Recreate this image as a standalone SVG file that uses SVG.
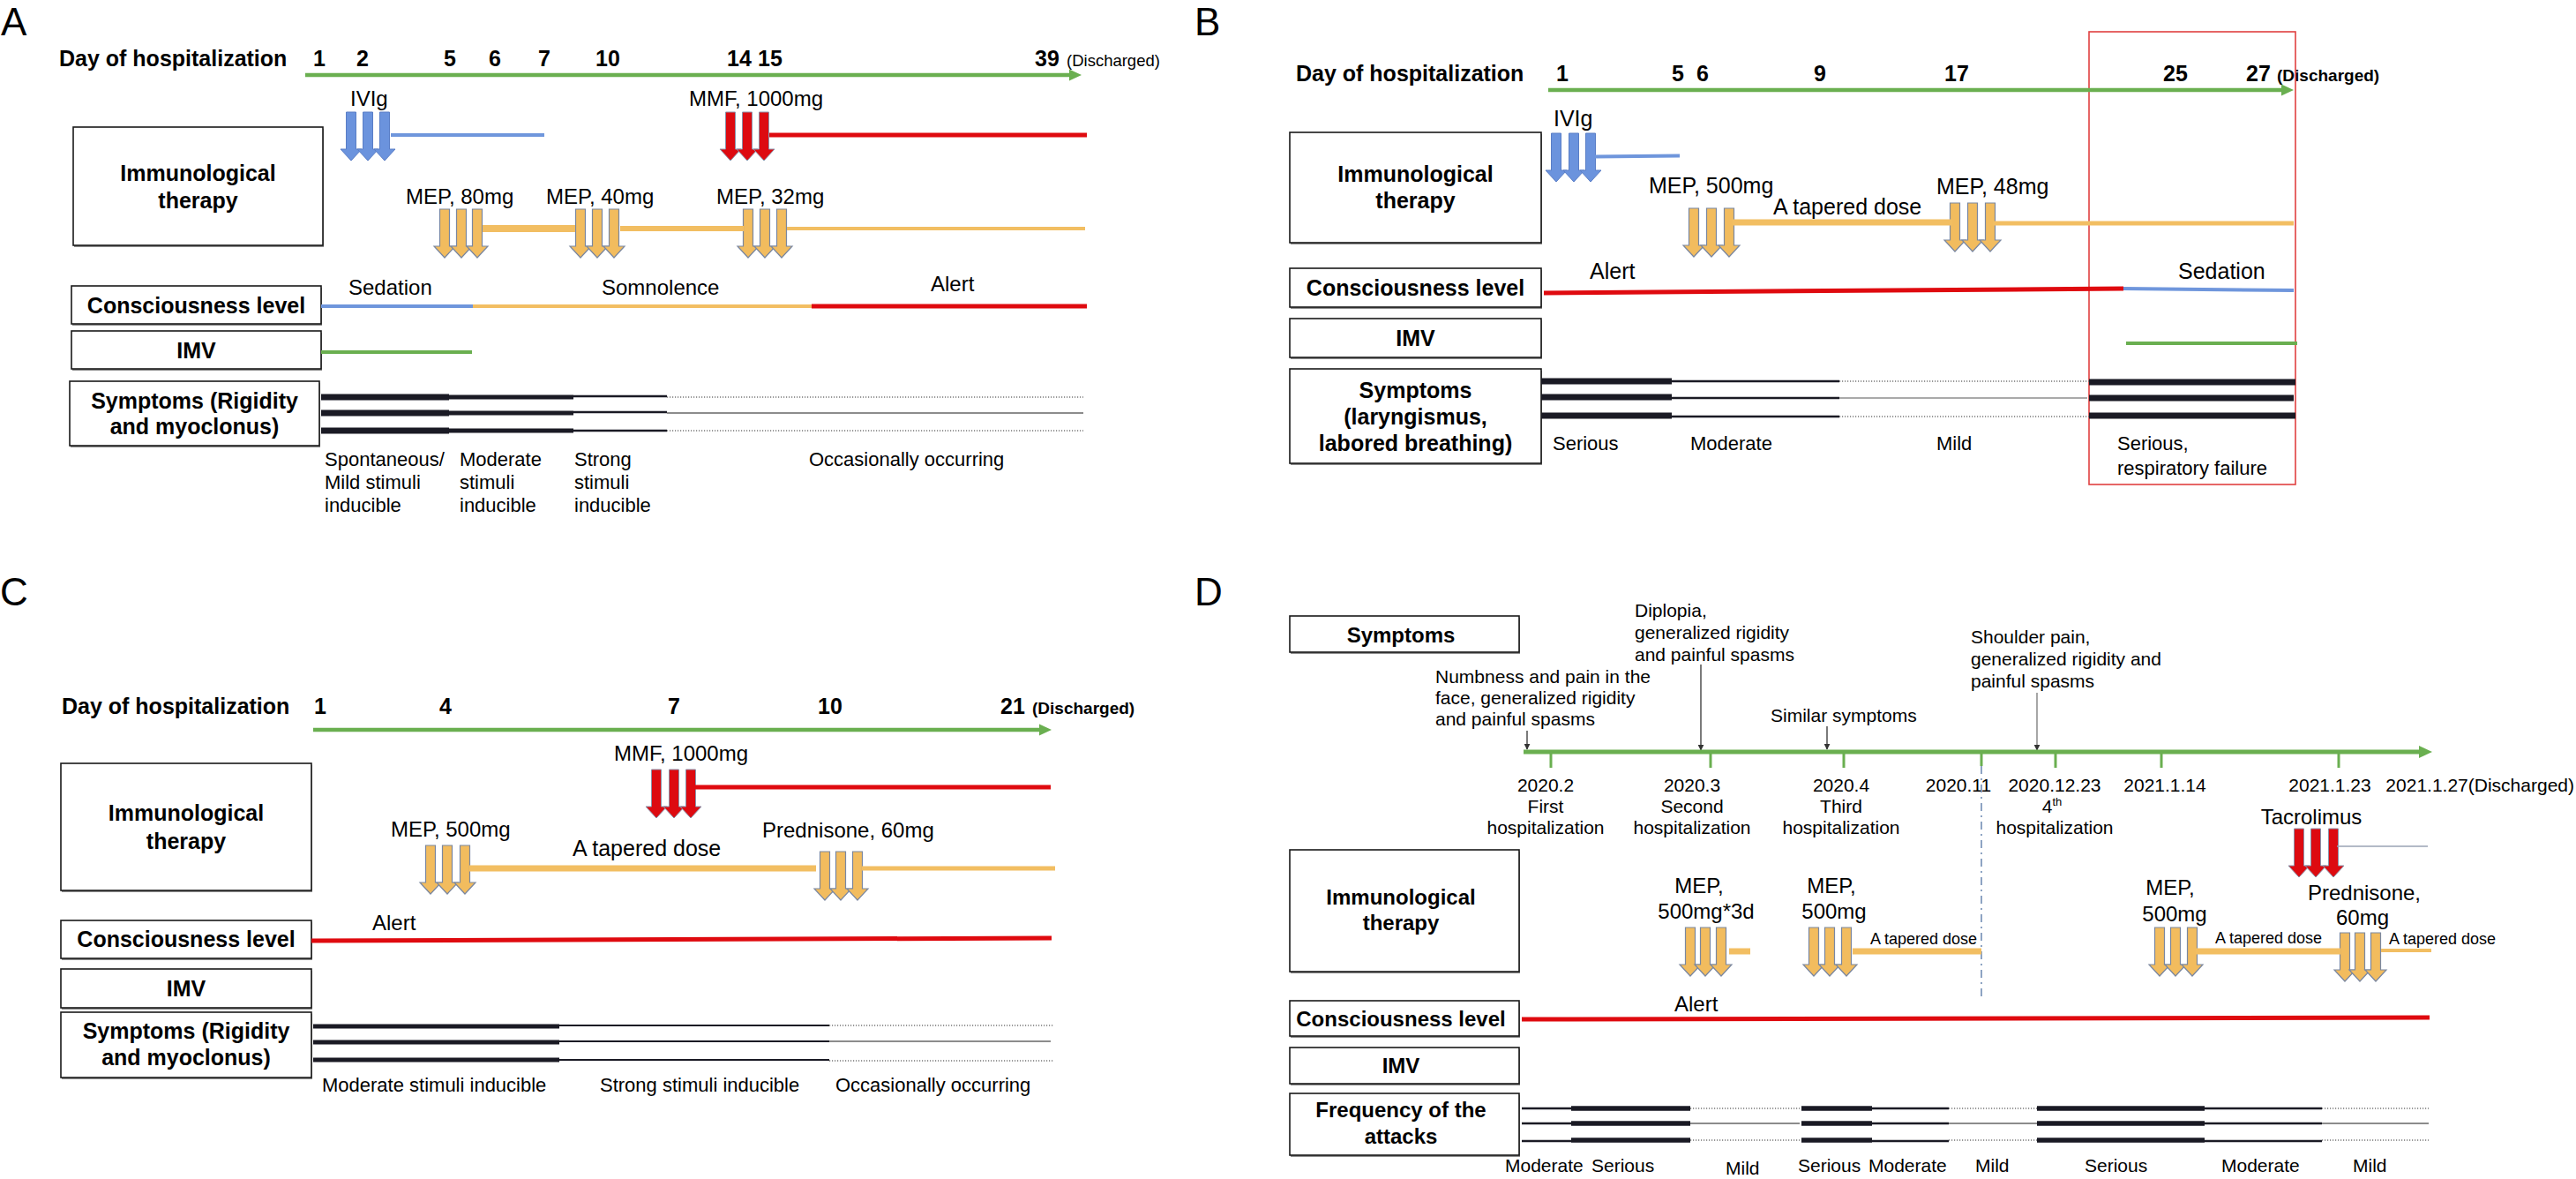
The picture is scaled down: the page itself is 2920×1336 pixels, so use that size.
<svg xmlns="http://www.w3.org/2000/svg" width="2920" height="1336" viewBox="0 0 2920 1336">
<style>
text{font-family:"Liberation Sans",Arial,sans-serif;fill:#000}
.pl{font-size:44px}
.day{font-size:25px;font-weight:bold}
.dis{font-size:18.5px}
.disb{font-size:19px;font-weight:bold}
.lb{font-size:24px}
.lb25{font-size:25px}
.sm{font-size:22px}
.d21{font-size:21px}
.d18{font-size:18px}
.bx{font-size:25px;font-weight:bold;text-anchor:middle}
.bxd{font-size:24px;font-weight:bold;text-anchor:middle}
.mid{text-anchor:middle}
.box{fill:#fff;stroke:#1a1a1a;stroke-width:1.6}
.shd{fill:#8c8c8c}
.ab{fill:#6B93DD;stroke:#5A7EC6;stroke-width:1}
.ao{fill:#F2BC5E;stroke:#7A87A0;stroke-width:1.2}
.ar{fill:#DD0A10;stroke:#8A93AA;stroke-width:1}
.g{stroke:#6AAF50;fill:none}
.bl{stroke:#6F96DC;fill:none}
.rd{stroke:#DF0A0F;fill:none}
.or{stroke:#F2BE62;fill:none}
.k{stroke:#1a1a24;fill:none}
.dot{stroke:#777;stroke-width:1.3;stroke-dasharray:1.2 1.8;fill:none}
.thin{stroke:#666;stroke-width:1.5;fill:none}
.ann{stroke:#333;stroke-width:1.3;fill:none;marker-end:url(#tip)}
</style>
<defs>
<path id="arw" d="M-5.5,0H5.5V42H12L0,55L-12,42H-5.5Z"/>
<marker id="tip" viewBox="0 0 10 10" refX="9" refY="5" markerWidth="7" markerHeight="7" markerUnits="userSpaceOnUse" orient="auto">
<path d="M0,0L10,5L0,10Z" fill="#333"/>
</marker>
</defs>

<!-- Panel labels -->
<g id="panel-labels">
<text class="pl" x="1" y="40">A</text>
<text class="pl" x="1354" y="40">B</text>
<text class="pl" x="0" y="686">C</text>
<text class="pl" x="1354" y="686">D</text>
</g>

<!-- ================= PANEL A ================= -->
<g id="A-axis">
<text class="day" x="67" y="75">Day of hospitalization</text>
<text class="day" x="355" y="75">1</text>
<text class="day" x="404" y="75">2</text>
<text class="day" x="503" y="75">5</text>
<text class="day" x="554" y="75">6</text>
<text class="day" x="610" y="75">7</text>
<text class="day" x="675" y="75">10</text>
<text class="day" x="824" y="75">14</text>
<text class="day" x="859" y="75">15</text>
<text class="day" x="1173" y="75">39</text>
<text class="dis" x="1209" y="75">(Discharged)</text>
</g>
<g id="A-box-immuno">
<rect class="shd" x="84" y="146" width="283" height="134"/>
<rect class="box" x="83" y="144" width="283" height="134"/>
<text class="bx" x="224.5" y="205">Immunological</text>
<text class="bx" x="224.5" y="236">therapy</text>
</g>
<g id="A-box-conscious">
<rect class="shd" x="82" y="326" width="283" height="43"/>
<rect class="box" x="81" y="324" width="283" height="43"/>
<text class="bx" x="222.5" y="355">Consciousness level</text>
</g>
<g id="A-box-imv">
<rect class="shd" x="82" y="377" width="283" height="43"/>
<rect class="box" x="81" y="375" width="283" height="43"/>
<text class="bx" x="222.5" y="406">IMV</text>
</g>
<g id="A-box-symptoms">
<rect class="shd" x="80" y="434" width="283" height="73"/>
<rect class="box" x="79" y="432" width="283" height="73"/>
<text class="bx" x="220.5" y="463">Symptoms (Rigidity</text>
<text class="bx" x="220.5" y="492">and myoclonus)</text>
</g>
<g id="A-therapy">
<text class="lb" x="397" y="120">IVIg</text>
<use href="#arw" x="398" y="127" class="ab"/>
<use href="#arw" x="417" y="127" class="ab"/>
<use href="#arw" x="436" y="127" class="ab"/>
<text class="lb" x="781" y="120">MMF, 1000mg</text>
<use href="#arw" x="828" y="127" class="ar"/>
<use href="#arw" x="847" y="127" class="ar"/>
<use href="#arw" x="866" y="127" class="ar"/>
<text class="lb" x="460" y="231">MEP, 80mg</text>
<use href="#arw" x="504" y="237" class="ao"/>
<use href="#arw" x="523" y="237" class="ao"/>
<use href="#arw" x="541" y="237" class="ao"/>
<text class="lb" x="619" y="231">MEP, 40mg</text>
<use href="#arw" x="658" y="237" class="ao"/>
<use href="#arw" x="677" y="237" class="ao"/>
<use href="#arw" x="696" y="237" class="ao"/>
<text class="lb" x="812" y="231">MEP, 32mg</text>
<use href="#arw" x="848" y="237" class="ao"/>
<use href="#arw" x="867" y="237" class="ao"/>
<use href="#arw" x="886" y="237" class="ao"/>
</g>
<g id="A-labels">
<text class="lb" x="395" y="334">Sedation</text>
<text class="lb" x="682" y="334">Somnolence</text>
<text class="lb" x="1055" y="330">Alert</text>
<text class="sm" x="368" y="528">Spontaneous/</text>
<text class="sm" x="368" y="554">Mild stimuli</text>
<text class="sm" x="368" y="580">inducible</text>
<text class="sm" x="521" y="528">Moderate</text>
<text class="sm" x="521" y="554">stimuli</text>
<text class="sm" x="521" y="580">inducible</text>
<text class="sm" x="651" y="528">Strong</text>
<text class="sm" x="651" y="554">stimuli</text>
<text class="sm" x="651" y="580">inducible</text>
<text class="sm" x="917" y="528">Occasionally occurring</text>
</g>

<!-- ================= PANEL B ================= -->
<g id="B-axis">
<text class="day" x="1469" y="92">Day of hospitalization</text>
<text class="day" x="1764" y="92">1</text>
<text class="day" x="1895" y="92">5</text>
<text class="day" x="1923" y="92">6</text>
<text class="day" x="2056" y="92">9</text>
<text class="day" x="2204" y="92">17</text>
<text class="day" x="2452" y="92">25</text>
<text class="day" x="2546" y="92">27</text>
<text class="disb" x="2581" y="92">(Discharged)</text>
</g>
<g id="B-highlight">
<rect x="2368" y="36" width="234" height="513" fill="none" stroke="#E04040" stroke-width="1.6"/>
</g>
<g id="B-box-immuno">
<rect class="shd" x="1463" y="152" width="285" height="125"/>
<rect class="box" x="1462" y="150" width="285" height="125"/>
<text class="bx" x="1604.5" y="206">Immunological</text>
<text class="bx" x="1604.5" y="236">therapy</text>
</g>
<g id="B-box-conscious">
<rect class="shd" x="1463" y="306" width="285" height="44"/>
<rect class="box" x="1462" y="304" width="285" height="44"/>
<text class="bx" x="1604.5" y="335">Consciousness level</text>
</g>
<g id="B-box-imv">
<rect class="shd" x="1463" y="363" width="285" height="44"/>
<rect class="box" x="1462" y="361" width="285" height="44"/>
<text class="bx" x="1604.5" y="392">IMV</text>
</g>
<g id="B-box-symptoms">
<rect class="shd" x="1463" y="420" width="285" height="107"/>
<rect class="box" x="1462" y="418" width="285" height="107"/>
<text class="bx" x="1604.5" y="451">Symptoms</text>
<text class="bx" x="1604.5" y="481">(laryngismus,</text>
<text class="bx" x="1604.5" y="511">labored breathing)</text>
</g>
<g id="B-therapy">
<text class="lb25" x="1761" y="143">IVIg</text>
<use href="#arw" x="1764" y="151" class="ab"/>
<use href="#arw" x="1784" y="151" class="ab"/>
<use href="#arw" x="1803" y="151" class="ab"/>
<text class="lb25" x="1869" y="219">MEP, 500mg</text>
<use href="#arw" x="1920" y="236" class="ao"/>
<use href="#arw" x="1940" y="236" class="ao"/>
<use href="#arw" x="1960" y="236" class="ao"/>
<text class="lb25" x="2010" y="243">A tapered dose</text>
<text class="lb25" x="2195" y="220">MEP, 48mg</text>
<use href="#arw" x="2216" y="230" class="ao"/>
<use href="#arw" x="2236" y="230" class="ao"/>
<use href="#arw" x="2256" y="230" class="ao"/>
</g>
<g id="B-labels">
<text class="lb25" x="1802" y="316">Alert</text>
<text class="lb25" x="2469" y="316">Sedation</text>
<text class="sm" x="1760" y="510">Serious</text>
<text class="sm" x="1916" y="510">Moderate</text>
<text class="sm" x="2195" y="510">Mild</text>
<text class="sm" x="2400" y="510">Serious,</text>
<text class="sm" x="2400" y="538">respiratory failure</text>
</g>

<!-- ================= PANEL C ================= -->
<g id="C-axis">
<text class="day" x="70" y="809">Day of hospitalization</text>
<text class="day" x="356" y="809">1</text>
<text class="day" x="498" y="809">4</text>
<text class="day" x="757" y="809">7</text>
<text class="day" x="927" y="809">10</text>
<text class="day" x="1134" y="809">21</text>
<text class="disb" x="1170" y="809">(Discharged)</text>
</g>
<g id="C-box-immuno">
<rect class="shd" x="70" y="867" width="284" height="144"/>
<rect class="box" x="69" y="865" width="284" height="144"/>
<text class="bx" x="211" y="930">Immunological</text>
<text class="bx" x="211" y="962">therapy</text>
</g>
<g id="C-box-conscious">
<rect class="shd" x="70" y="1045" width="284" height="43"/>
<rect class="box" x="69" y="1043" width="284" height="43"/>
<text class="bx" x="211" y="1073">Consciousness level</text>
</g>
<g id="C-box-imv">
<rect class="shd" x="70" y="1100" width="284" height="44"/>
<rect class="box" x="69" y="1098" width="284" height="44"/>
<text class="bx" x="211" y="1129">IMV</text>
</g>
<g id="C-box-symptoms">
<rect class="shd" x="70" y="1149" width="284" height="74"/>
<rect class="box" x="69" y="1147" width="284" height="74"/>
<text class="bx" x="211" y="1177">Symptoms (Rigidity</text>
<text class="bx" x="211" y="1207">and myoclonus)</text>
</g>
<g id="C-therapy">
<text class="lb" x="696" y="862">MMF, 1000mg</text>
<use href="#arw" x="744" y="872" class="ar"/>
<use href="#arw" x="764" y="872" class="ar"/>
<use href="#arw" x="783" y="872" class="ar"/>
<text class="lb" x="443" y="948">MEP, 500mg</text>
<use href="#arw" x="488" y="958" class="ao"/>
<use href="#arw" x="507" y="958" class="ao"/>
<use href="#arw" x="527" y="958" class="ao"/>
<text class="lb25" x="649" y="970">A tapered dose</text>
<text class="lb" x="864" y="949">Prednisone, 60mg</text>
<use href="#arw" x="935" y="965" class="ao"/>
<use href="#arw" x="953" y="965" class="ao"/>
<use href="#arw" x="972" y="965" class="ao"/>
</g>
<g id="C-labels">
<text class="lb" x="422" y="1054">Alert</text>
<text class="sm" x="365" y="1237">Moderate stimuli inducible</text>
<text class="sm" x="680" y="1237">Strong stimuli inducible</text>
<text class="sm" x="947" y="1237">Occasionally occurring</text>
</g>

<!-- ================= PANEL D ================= -->
<g id="D-box-symptoms">
<rect class="shd" x="1463" y="700" width="260" height="41"/>
<rect class="box" x="1462" y="698" width="260" height="41"/>
<text class="bxd" x="1588" y="728">Symptoms</text>
</g>
<g id="D-symptom-notes">
<text class="d21" x="1627" y="774">Numbness and pain in the</text>
<text class="d21" x="1627" y="798">face, generalized rigidity</text>
<text class="d21" x="1627" y="822">and painful spasms</text>
<text class="d21" x="1853" y="699">Diplopia,</text>
<text class="d21" x="1853" y="724">generalized rigidity</text>
<text class="d21" x="1853" y="749">and painful spasms</text>
<text class="d21" x="2007" y="818">Similar symptoms</text>
<text class="d21" x="2234" y="729">Shoulder pain,</text>
<text class="d21" x="2234" y="754">generalized rigidity and</text>
<text class="d21" x="2234" y="779">painful spasms</text>
</g>
<g id="D-dates">
<text class="d21 mid" x="1752" y="897">2020.2</text>
<text class="d21 mid" x="1918" y="897">2020.3</text>
<text class="d21 mid" x="2087" y="897">2020.4</text>
<text class="d21 mid" x="2220" y="897">2020.11</text>
<text class="d21 mid" x="2329" y="897">2020.12.23</text>
<text class="d21 mid" x="2454" y="897">2021.1.14</text>
<text class="d21 mid" x="2641" y="897">2021.1.23</text>
<text class="d21" x="2918" y="897" text-anchor="end">2021.1.27(Discharged)</text>
<text class="d21 mid" x="1752" y="921">First</text>
<text class="d21 mid" x="1918" y="921">Second</text>
<text class="d21 mid" x="2087" y="921">Third</text>
<text class="d21 mid" x="2326" y="921">4<tspan font-size="13" dy="-8">th</tspan></text>
<text class="d21 mid" x="1752" y="945">hospitalization</text>
<text class="d21 mid" x="1918" y="945">hospitalization</text>
<text class="d21 mid" x="2087" y="945">hospitalization</text>
<text class="d21 mid" x="2329" y="945">hospitalization</text>
</g>
<g id="D-box-immuno">
<rect class="shd" x="1463" y="965" width="260" height="138"/>
<rect class="box" x="1462" y="963" width="260" height="138"/>
<text class="bxd" x="1588" y="1025">Immunological</text>
<text class="bxd" x="1588" y="1054">therapy</text>
</g>
<g id="D-box-conscious">
<rect class="shd" x="1463" y="1136" width="260" height="40"/>
<rect class="box" x="1462" y="1134" width="260" height="40"/>
<text class="bxd" x="1588" y="1163">Consciousness level</text>
</g>
<g id="D-box-imv">
<rect class="shd" x="1463" y="1189" width="260" height="41"/>
<rect class="box" x="1462" y="1187" width="260" height="41"/>
<text class="bxd" x="1588" y="1216">IMV</text>
</g>
<g id="D-box-frequency">
<rect class="shd" x="1463" y="1241" width="260" height="70"/>
<rect class="box" x="1462" y="1239" width="260" height="70"/>
<text class="bxd" x="1588" y="1266">Frequency of the</text>
<text class="bxd" x="1588" y="1296">attacks</text>
</g>
<g id="D-therapy">
<text class="lb" x="2620" y="934" text-anchor="middle" font-size="23">Tacrolimus</text>
<use href="#arw" x="2606" y="939" class="ar"/>
<use href="#arw" x="2625" y="939" class="ar"/>
<use href="#arw" x="2645" y="939" class="ar"/>
<text class="lb mid" x="1926" y="1012">MEP,</text>
<text class="lb mid" x="1934" y="1041">500mg*3d</text>
<use href="#arw" x="1916" y="1051" class="ao"/>
<use href="#arw" x="1933" y="1051" class="ao"/>
<use href="#arw" x="1951" y="1051" class="ao"/>
<text class="lb mid" x="2076" y="1012">MEP,</text>
<text class="lb mid" x="2079" y="1041">500mg</text>
<use href="#arw" x="2056" y="1051" class="ao"/>
<use href="#arw" x="2074" y="1051" class="ao"/>
<use href="#arw" x="2093" y="1051" class="ao"/>
<text class="d18" x="2120" y="1070">A tapered dose</text>
<text class="lb mid" x="2460" y="1014">MEP,</text>
<text class="lb mid" x="2465" y="1044">500mg</text>
<use href="#arw" x="2448" y="1051" class="ao"/>
<use href="#arw" x="2466" y="1051" class="ao"/>
<use href="#arw" x="2485" y="1051" class="ao"/>
<text class="d18" x="2511" y="1069">A tapered dose</text>
<text class="lb mid" x="2680" y="1020">Prednisone,</text>
<text class="lb mid" x="2678" y="1048">60mg</text>
<use href="#arw" x="2658" y="1057" class="ao"/>
<use href="#arw" x="2675" y="1057" class="ao"/>
<use href="#arw" x="2693" y="1057" class="ao"/>
<text class="d18" x="2708" y="1070">A tapered dose</text>
</g>
<g id="D-labels">
<text class="lb" x="1898" y="1146">Alert</text>
<text class="d21" x="1706" y="1328">Moderate</text>
<text class="d21" x="1804" y="1328">Serious</text>
<text class="d21" x="1956" y="1331">Mild</text>
<text class="d21" x="2038" y="1328">Serious</text>
<text class="d21" x="2118" y="1328">Moderate</text>
<text class="d21" x="2239" y="1328">Mild</text>
<text class="d21" x="2363" y="1328">Serious</text>
<text class="d21" x="2518" y="1328">Moderate</text>
<text class="d21" x="2667" y="1328">Mild</text>
</g>

<!-- ================= CONNECTORS / TIMELINE BARS ================= -->
<g id="connectors">
<!-- A -->
<line class="g" x1="346" y1="85" x2="1214" y2="85" stroke-width="4.5"/>
<polygon points="1212,78.5 1226,85 1212,91.5" fill="#6AAF50"/>
<line class="bl" x1="443" y1="153" x2="617" y2="153" stroke-width="4"/>
<line class="rd" x1="872" y1="153" x2="1232" y2="153" stroke-width="5"/>
<line class="or" x1="547" y1="259" x2="652" y2="259" stroke-width="8"/>
<line class="or" x1="703" y1="259" x2="843" y2="259" stroke-width="6"/>
<line class="or" x1="892" y1="259" x2="1230" y2="259" stroke-width="4"/>
<line class="bl" x1="364" y1="347" x2="536" y2="347" stroke-width="4"/>
<line class="or" x1="536" y1="347" x2="920" y2="347" stroke-width="4"/>
<line class="rd" x1="920" y1="347" x2="1232" y2="347" stroke-width="5"/>
<line class="g" x1="364" y1="399" x2="535" y2="399" stroke-width="4"/>
<g>
<line class="k" x1="364" y1="450" x2="509" y2="450" stroke-width="7"/>
<line class="k" x1="364" y1="468" x2="509" y2="468" stroke-width="7"/>
<line class="k" x1="364" y1="488" x2="509" y2="488" stroke-width="7"/>
<line class="k" x1="509" y1="450" x2="650" y2="450" stroke-width="5"/>
<line class="k" x1="509" y1="468" x2="650" y2="468" stroke-width="5"/>
<line class="k" x1="509" y1="488" x2="650" y2="488" stroke-width="5"/>
<line class="k" x1="650" y1="449" x2="756" y2="449" stroke-width="2.5"/>
<line class="k" x1="650" y1="467" x2="756" y2="467" stroke-width="2.5"/>
<line class="k" x1="650" y1="488" x2="756" y2="488" stroke-width="2.5"/>
<line class="dot" x1="756" y1="450" x2="1228" y2="450"/>
<line class="thin" x1="756" y1="468" x2="1228" y2="468"/>
<line class="dot" x1="756" y1="488" x2="1228" y2="488"/>
</g>
<!-- B -->
<line class="g" x1="1755" y1="102" x2="2588" y2="102" stroke-width="4.5"/>
<polygon points="2586,95.5 2600,102 2586,108.5" fill="#6AAF50"/>
<line class="bl" x1="1808" y1="177.5" x2="1904" y2="176.5" stroke-width="4"/>
<line class="or" x1="1964" y1="252" x2="2213" y2="252" stroke-width="7"/>
<line class="or" x1="2259" y1="253" x2="2600" y2="253" stroke-width="5"/>
<line class="rd" x1="1750" y1="332" x2="2407" y2="327" stroke-width="5"/>
<line class="bl" x1="2407" y1="327" x2="2600" y2="329" stroke-width="4"/>
<line class="g" x1="2410" y1="389" x2="2604" y2="389" stroke-width="4"/>
<g>
<line class="k" x1="1747" y1="432" x2="1895" y2="432" stroke-width="7"/>
<line class="k" x1="1747" y1="450" x2="1895" y2="450" stroke-width="7"/>
<line class="k" x1="1747" y1="471" x2="1895" y2="471" stroke-width="7"/>
<line class="k" x1="1895" y1="432" x2="2085" y2="432" stroke-width="2.5"/>
<line class="k" x1="1895" y1="451" x2="2085" y2="451" stroke-width="2.5"/>
<line class="k" x1="1895" y1="472" x2="2085" y2="472" stroke-width="2.5"/>
<line class="dot" x1="2085" y1="432" x2="2368" y2="432"/>
<line stroke="#aaa" stroke-width="2" x1="2085" y1="451" x2="2366" y2="451"/>
<line class="dot" x1="2085" y1="472" x2="2368" y2="472"/>
<line class="k" x1="2368" y1="433" x2="2602" y2="433" stroke-width="7"/>
<line class="k" x1="2368" y1="451" x2="2600" y2="451" stroke-width="7"/>
<line class="k" x1="2368" y1="471" x2="2602" y2="471" stroke-width="7"/>
</g>
<!-- C -->
<line class="g" x1="355" y1="827" x2="1180" y2="827" stroke-width="4.5"/>
<polygon points="1178,820.5 1192,827 1178,833.5" fill="#6AAF50"/>
<line class="rd" x1="788" y1="892" x2="1191" y2="892" stroke-width="5"/>
<line class="or" x1="532" y1="984" x2="925" y2="984" stroke-width="7"/>
<line class="or" x1="977" y1="984" x2="1196" y2="984" stroke-width="5"/>
<line class="rd" x1="353" y1="1066" x2="1192" y2="1063" stroke-width="5"/>
<g>
<line class="k" x1="355" y1="1163" x2="634" y2="1163" stroke-width="5"/>
<line class="k" x1="355" y1="1181" x2="634" y2="1181" stroke-width="5"/>
<line class="k" x1="355" y1="1201" x2="634" y2="1201" stroke-width="5"/>
<line class="k" x1="634" y1="1162" x2="940" y2="1162" stroke-width="2.2"/>
<line class="k" x1="634" y1="1180" x2="940" y2="1180" stroke-width="2.2"/>
<line class="k" x1="634" y1="1201" x2="940" y2="1201" stroke-width="2.2"/>
<line class="dot" x1="940" y1="1162" x2="1194" y2="1162"/>
<line class="thin" x1="940" y1="1180" x2="1191" y2="1180"/>
<line class="dot" x1="940" y1="1202" x2="1194" y2="1202"/>
</g>
<!-- D -->
<line class="ann" x1="1731" y1="828" x2="1731" y2="849"/>
<line class="ann" x1="1928" y1="753" x2="1928" y2="850"/>
<line class="ann" x1="2071" y1="823" x2="2071" y2="849"/>
<line class="ann" x1="2309" y1="785" x2="2309" y2="850" style="stroke:#777"/>
<line class="g" x1="1727" y1="852" x2="2744" y2="852" stroke-width="5"/>
<polygon points="2742,845 2757,852 2742,859" fill="#6AAF50"/>
<g class="g" stroke-width="3">
<line x1="1758" y1="852" x2="1758" y2="870"/>
<line x1="1939" y1="852" x2="1939" y2="870"/>
<line x1="2090" y1="852" x2="2090" y2="870"/>
<line x1="2246" y1="852" x2="2246" y2="868"/>
<line x1="2330" y1="852" x2="2330" y2="870"/>
<line x1="2450" y1="852" x2="2450" y2="870"/>
<line x1="2651" y1="852" x2="2651" y2="870"/>
</g>
<line x1="2246" y1="868" x2="2246" y2="1132" stroke="#6A86B0" stroke-width="1.5" stroke-dasharray="9 5 2 5"/>
<line x1="2649" y1="959" x2="2752" y2="959" stroke="#9aa3b5" stroke-width="1.3"/>
<line class="or" x1="1960" y1="1078" x2="1984" y2="1078" stroke-width="7"/>
<line class="or" x1="2100" y1="1078" x2="2246" y2="1078" stroke-width="7"/>
<line class="or" x1="2489" y1="1078" x2="2653" y2="1078" stroke-width="7"/>
<line class="or" x1="2699" y1="1077" x2="2756" y2="1077" stroke-width="4"/>
<line class="rd" x1="1725" y1="1155" x2="2754" y2="1153" stroke-width="5"/>
<g>
<line class="k" x1="1725" y1="1256" x2="1781" y2="1256" stroke-width="2.5"/>
<line class="k" x1="1725" y1="1273" x2="1781" y2="1273" stroke-width="2.5"/>
<line class="k" x1="1725" y1="1293" x2="1781" y2="1293" stroke-width="2.5"/>
<line class="k" x1="1781" y1="1256" x2="1916" y2="1256" stroke-width="5.5"/>
<line class="k" x1="1781" y1="1273" x2="1916" y2="1273" stroke-width="5.5"/>
<line class="k" x1="1781" y1="1292" x2="1916" y2="1292" stroke-width="5.5"/>
<line class="dot" x1="1916" y1="1256" x2="2040" y2="1256"/>
<line class="thin" x1="1916" y1="1273" x2="2040" y2="1273"/>
<line class="dot" x1="1916" y1="1292" x2="2040" y2="1292"/>
<line class="k" x1="2042" y1="1256" x2="2122" y2="1256" stroke-width="5.5"/>
<line class="k" x1="2042" y1="1273" x2="2122" y2="1273" stroke-width="5.5"/>
<line class="k" x1="2042" y1="1292" x2="2122" y2="1292" stroke-width="5.5"/>
<line class="k" x1="2122" y1="1256" x2="2209" y2="1256" stroke-width="2.5"/>
<line class="k" x1="2122" y1="1273" x2="2209" y2="1273" stroke-width="2.5"/>
<line class="k" x1="2122" y1="1293" x2="2209" y2="1293" stroke-width="2.5"/>
<line class="dot" x1="2209" y1="1256" x2="2309" y2="1256"/>
<line class="thin" x1="2209" y1="1273" x2="2309" y2="1273"/>
<line class="dot" x1="2209" y1="1292" x2="2309" y2="1292"/>
<line class="k" x1="2309" y1="1256" x2="2499" y2="1256" stroke-width="5.5"/>
<line class="k" x1="2309" y1="1273" x2="2499" y2="1273" stroke-width="5.5"/>
<line class="k" x1="2309" y1="1292" x2="2499" y2="1292" stroke-width="5.5"/>
<line class="k" x1="2499" y1="1256" x2="2632" y2="1256" stroke-width="2.5"/>
<line class="k" x1="2499" y1="1273" x2="2632" y2="1273" stroke-width="2.5"/>
<line class="k" x1="2499" y1="1293" x2="2632" y2="1293" stroke-width="2.5"/>
<line class="dot" x1="2632" y1="1256" x2="2753" y2="1256"/>
<line class="thin" x1="2632" y1="1273" x2="2753" y2="1273"/>
<line class="dot" x1="2632" y1="1292" x2="2753" y2="1292"/>
</g>
</g>
</svg>
